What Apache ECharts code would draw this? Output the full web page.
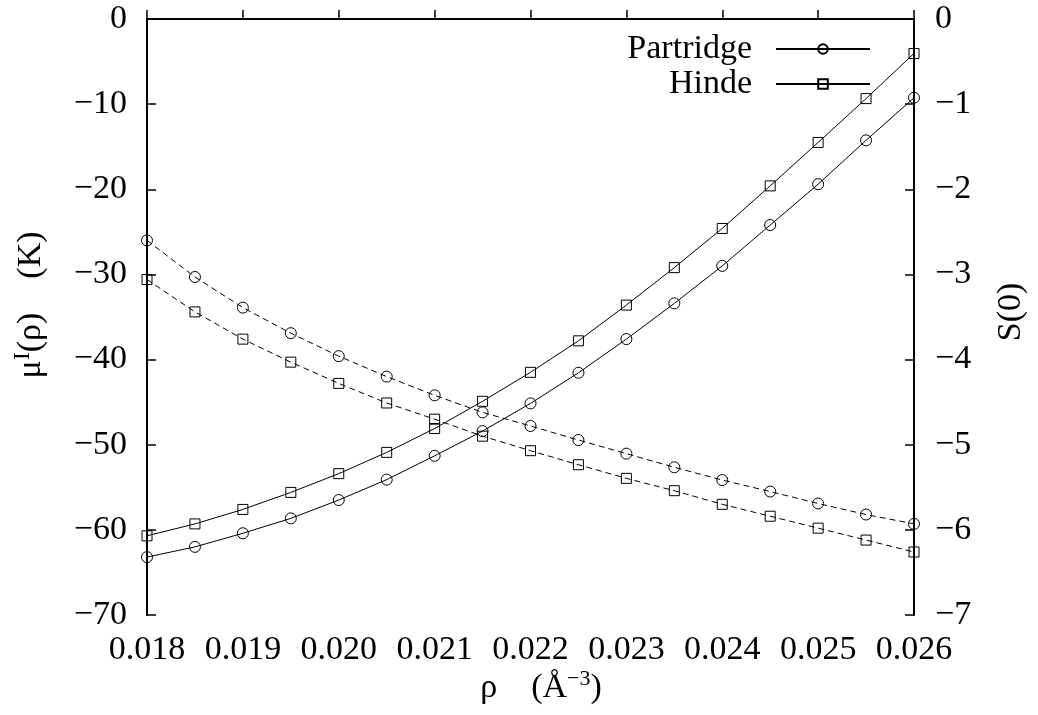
<!DOCTYPE html>
<html>
<head>
<meta charset="utf-8">
<script src="https://cdn.jsdelivr.net/npm/echarts@6/dist/echarts.min.js"></script>
<style>
  html, body { margin: 0; padding: 0; background: #fff; }
  #chart { width: 1038px; height: 715px; }
</style>
</head>
<body>
<div id="chart"></div>
<script>
// Density grid (Å^-3)
const rho = [0.018, 0.0185, 0.019, 0.0195, 0.020, 0.0205, 0.021, 0.0215, 0.022,
             0.0225, 0.023, 0.0235, 0.024, 0.0245, 0.025, 0.0255, 0.026];
// Chemical potential mu^I(rho) in K (left axis)
const muPartridge = [-63.2, -62.0, -60.4, -58.65, -56.5, -54.1, -51.3, -48.4, -45.15,
                     -41.55, -37.6, -33.4, -29.0, -24.2, -19.4, -14.25, -9.25];
const muHinde = [-60.7, -59.3, -57.6, -55.6, -53.4, -50.9, -48.1, -44.9, -41.5,
                 -37.8, -33.6, -29.2, -24.6, -19.6, -14.5, -9.35, -4.05];
// Structure factor S(0) (right axis)
const sPartridge = [-2.60, -3.03, -3.39, -3.69, -3.96, -4.20, -4.42, -4.62, -4.78,
                    -4.945, -5.105, -5.265, -5.415, -5.55, -5.69, -5.82, -5.93];
const sHinde = [-3.06, -3.44, -3.76, -4.03, -4.28, -4.51, -4.70, -4.90, -5.07,
                -5.235, -5.395, -5.54, -5.70, -5.84, -5.98, -6.12, -6.26];

const FONT = '"Liberation Serif", "Times New Roman", serif';
const FS = 34;
const MINUS = '\u2212';

function pairs(ys) { return rho.map((x, i) => [x, ys[i]]); }
function signed(v) {
  const r = Math.round(v * 1000) / 1000;
  return (r < 0 ? MINUS : '') + Math.abs(r);
}

const axisLine = { show: true, lineStyle: { color: '#000', width: 2 } };
const tickLine = { color: '#000', width: 1.5 };
const labelStyle = { color: '#000', fontFamily: FONT, fontSize: FS };

function lineSeries(name, ys, symbol, yIdx, dashed) {
  return {
    name: name,
    type: 'line',
    yAxisIndex: yIdx,
    data: pairs(ys),
    symbol: symbol,
    symbolSize: symbol === 'rect' ? 10 : 11,
    showAllSymbol: true,
    clip: false,
    lineStyle: { color: '#000', width: 1, type: dashed ? [6, 4] : 'solid' },
    itemStyle: { color: 'transparent', borderColor: '#000', borderWidth: 1 },
    emphasis: { disabled: true },
    animation: false
  };
}

const chart = echarts.init(document.getElementById('chart'), null, { renderer: 'canvas' });
chart.setOption({
  backgroundColor: '#fff',
  animation: false,
  grid: { left: 147, right: 124, top: 19, bottom: 100, containLabel: false },
  legend: {
    data: ['Partridge', 'Hinde'],
    orient: 'vertical',
    align: 'right',
    right: 167,
    top: 32,
    padding: 0,
    itemGap: 1,
    itemWidth: 94,
    itemHeight: 12,
    textStyle: { color: '#000', fontFamily: FONT, fontSize: FS, lineHeight: 34, padding: [0, 19, 0, 0] },
    selectedMode: false
  },
  xAxis: [
    {
      type: 'value', min: 0.018, max: 0.026, interval: 0.001,
      axisLine: axisLine, splitLine: { show: false },
      axisTick: { show: true, inside: true, length: 9, lineStyle: tickLine },
      axisLabel: Object.assign({ margin: 18, formatter: v => v.toFixed(3) }, labelStyle)
    },
    {
      type: 'value', position: 'top', min: 0.018, max: 0.026, interval: 0.001,
      axisLine: axisLine, splitLine: { show: false },
      axisTick: { show: true, inside: false, length: 9, lineStyle: tickLine },
      axisLabel: { show: false }
    }
  ],
  yAxis: [
    {
      type: 'value', min: -70, max: 0, interval: 10,
      axisLine: axisLine, splitLine: { show: false },
      axisTick: { show: true, inside: true, length: 9, lineStyle: tickLine },
      axisLabel: Object.assign({ margin: 20, formatter: signed }, labelStyle)
    },
    {
      type: 'value', position: 'right', min: -7, max: 0, interval: 1,
      axisLine: axisLine, splitLine: { show: false },
      axisTick: { show: true, inside: true, length: 9, lineStyle: tickLine },
      axisLabel: Object.assign({ margin: 21, formatter: signed }, labelStyle)
    }
  ],
  series: [
    lineSeries('Partridge', muPartridge, 'circle', 0, false),
    lineSeries('Hinde', muHinde, 'rect', 0, false),
    lineSeries('Partridge', sPartridge, 'circle', 1, true),
    lineSeries('Hinde', sHinde, 'rect', 1, true)
  ],
  graphic: [
    {
      type: 'text', x: 31, y: 305, rotation: Math.PI / 2,
      style: {
        text: '{a|μ}{b|I}{a|(ρ)    (K)}',
        textAlign: 'center', textVerticalAlign: 'middle',
        fill: '#000', font: FS + 'px ' + FONT,
        rich: {
          a: { fontFamily: FONT, fontSize: FS, fill: '#000', lineHeight: 40 },
          b: { fontFamily: FONT, fontSize: 24, fill: '#000', verticalAlign: 'top', lineHeight: 40 }
        }
      }
    },
    {
      type: 'text', x: 1011, y: 312, rotation: Math.PI / 2,
      style: {
        text: 'S(0)', textAlign: 'center', textVerticalAlign: 'middle',
        fill: '#000', font: FS + 'px ' + FONT
      }
    },
    {
      type: 'text', x: 541, y: 688,
      style: {
        text: '{a|ρ    (Å}{b|' + MINUS + '3}{a|)}',
        textAlign: 'center', textVerticalAlign: 'middle',
        fill: '#000', font: FS + 'px ' + FONT,
        rich: {
          a: { fontFamily: FONT, fontSize: FS, fill: '#000', lineHeight: 40 },
          b: { fontFamily: FONT, fontSize: 22, fill: '#000', verticalAlign: 'top', lineHeight: 40 }
        }
      }
    }
  ]
});
</script>
</body>
</html>
